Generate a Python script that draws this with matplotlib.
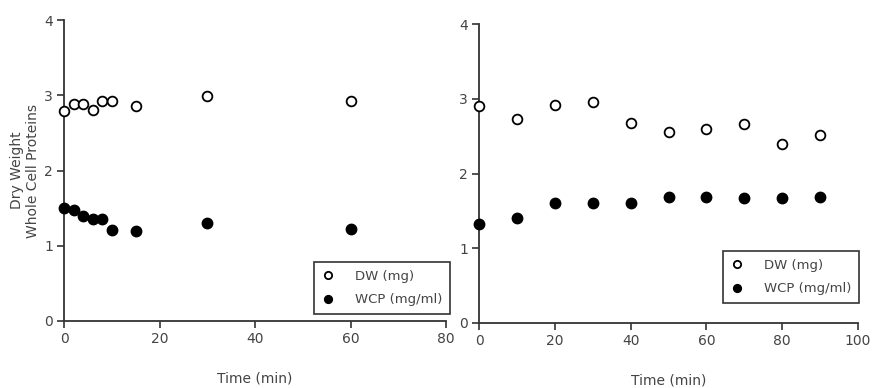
import matplotlib

matplotlib.use("Agg")
import matplotlib.pyplot as plt

# left panel
left_time = [0, 2, 4, 6, 8, 10, 15, 30, 60]
left_dw = [2.79, 2.89, 2.89, 2.81, 2.92, 2.92, 2.86, 2.99, 2.92]
left_wcp = [1.50, 1.48, 1.40, 1.35, 1.35, 1.21, 1.19, 1.30, 1.22]

# right panel
right_time = [0, 10, 20, 30, 40, 50, 60, 70, 80, 90]
right_dw = [2.90, 2.73, 2.92, 2.96, 2.67, 2.55, 2.60, 2.66, 2.39, 2.51]
right_wcp = [1.33, 1.40, 1.60, 1.60, 1.61, 1.68, 1.69, 1.67, 1.67, 1.68]

dw_label = "DW (mg)"
wcp_label = "WCP (mg/ml)"
x_label = "Time (min)"
y_label = "Dry Weight\nWhole Cell Proteins"

TEXT = "#444444"
AXIS = "#333333"

plt.rcParams["font.family"] = ["DejaVu Sans"]

fig = plt.figure(figsize=(8.72, 3.88), dpi=100)
ax_left = fig.add_axes([64 / 872, 1 - 321 / 388, 382 / 872, 301 / 388])
ax_right = fig.add_axes([479 / 872, 1 - 323 / 388, 379 / 872, 299 / 388])


def style_axis(ax, xmax, xticks):
    ax.set_xlim(0, xmax)
    ax.set_ylim(0, 4)
    ax.set_xticks(xticks)
    ax.set_yticks([0, 1, 2, 3, 4])
    for side in ("top", "right"):
        ax.spines[side].set_visible(False)
    for side in ("left", "bottom"):
        ax.spines[side].set_color(AXIS)
        ax.spines[side].set_linewidth(1.3)
    ax.tick_params(direction="out", length=5, width=1.2, color=AXIS,
                   labelcolor=TEXT, labelsize=10, pad=3)
    ax.set_xlabel(x_label, fontsize=10, color=TEXT, labelpad=18)


def draw(ax, t, dw, wcp, anchor):
    ax.plot(t, dw, linestyle="none", marker="o", markersize=7,
            markerfacecolor="white", markeredgecolor="black",
            markeredgewidth=1.3, clip_on=False, label=dw_label, zorder=3)
    ax.plot(t, wcp, linestyle="none", marker="o", markersize=7.5,
            color="black", clip_on=False, label=wcp_label, zorder=3)
    leg = ax.legend(loc="upper right", bbox_to_anchor=anchor,
                    bbox_transform=fig.transFigure, borderaxespad=0,
                    fontsize=9.5, frameon=True, fancybox=False,
                    handlelength=1.0, handletextpad=1.5, labelspacing=0.8,
                    borderpad=0.6, markerscale=0.75)
    leg.get_frame().set_edgecolor("black")
    leg.get_frame().set_linewidth(1.2)
    for txt in leg.get_texts():
        txt.set_color(TEXT)


style_axis(ax_left, 80, [0, 20, 40, 60, 80])
style_axis(ax_right, 100, [0, 20, 40, 60, 80, 100])
draw(ax_left, left_time, left_dw, left_wcp, (450 / 872, 1 - 262 / 388))
draw(ax_right, right_time, right_dw, right_wcp, (859 / 872, 1 - 251 / 388))

ax_left.set_ylabel(y_label, fontsize=10, color=TEXT, labelpad=3,
                   linespacing=1.2)

fig.savefig("out.png", dpi=100, facecolor="white")
